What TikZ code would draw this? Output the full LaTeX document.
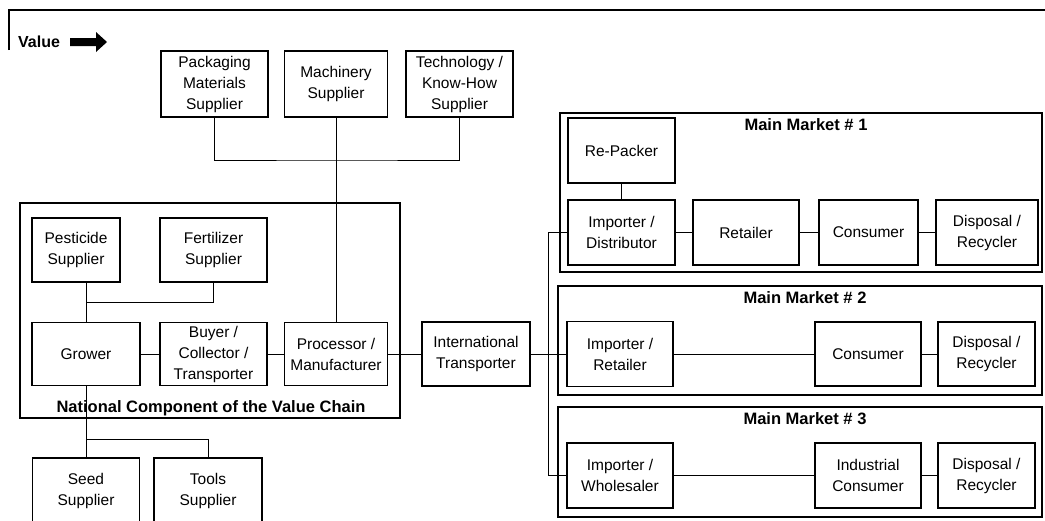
\documentclass[tikz,border=0pt]{standalone}
\usepackage{fontspec}
\setmainfont{Liberation Sans}
\begin{document}
\begin{tikzpicture}[x=1pt,y=-1pt,
  bx/.style={draw, line width=1.1pt, inner sep=0pt, align=center,
    font=\fontsize{15.5}{21}\selectfont},
  frame/.style={draw, line width=1.1pt},
  conn/.style={line width=1pt},
  ttl/.style={inner sep=0pt, font=\fontsize{16.5}{19}\selectfont\bfseries}]
\useasboundingbox (0,0) rectangle (1045,520);
\clip (0,0) rectangle (1045,520);
% header
\draw[line width=2pt] (9,50) -- (9,10) -- (1046,10);
\node[anchor=west, inner sep=0pt, font=\fontsize{16}{18}\selectfont\bfseries] (val) at (18,42) {Value};
\fill (70,38) -- (96,38) -- (96,32) -- (107,42) -- (96,52) -- (96,46) -- (70,46) -- cycle;
% frames
\draw[frame] (560,113) rectangle (1042,272);
\draw[frame] (558,286) rectangle (1042,395);
\draw[frame] (558,407) rectangle (1042,517);
\draw[frame] (20,203) rectangle (400,418);
\node[ttl] (natl) at (211,408) {National Component of the Value Chain};
\node[ttl] (mm1) at (806,125) {Main Market \# 1};
\node[ttl] (mm2) at (805,298) {Main Market \# 2};
\node[ttl] (mm3) at (805,419) {Main Market \# 3};
% top suppliers
\node[bx, minimum width=107pt, minimum height=66pt] (pack) at (214.5,84) {Packaging\\Materials\\Supplier};
\node[bx, minimum width=103pt, minimum height=66pt] (mach) at (336,84) {Machinery\\Supplier};
\node[bx, minimum width=107pt, minimum height=66pt] (tech) at (459.5,84) {Technology /\\Know-How\\Supplier};
% national
\node[bx, minimum width=88pt, minimum height=64pt] (pest) at (76,250) {Pesticide\\Supplier};
\node[bx, minimum width=107pt, minimum height=64pt] (fert) at (213.5,250) {Fertilizer\\Supplier};
\node[bx, minimum width=108pt, minimum height=63pt] (grow) at (86,354) {Grower};
\node[bx, minimum width=107pt, minimum height=63pt] (buy) at (213.5,354) {Buyer /\\Collector /\\Transporter};
\node[bx, minimum width=103pt, minimum height=63pt] (proc) at (336,354) {Processor /\\Manufacturer};
\node[bx, minimum width=107pt, minimum height=66pt] (seed) at (86,491) {Seed\\Supplier};
\node[bx, minimum width=108pt, minimum height=66pt] (tools) at (208,491) {Tools\\Supplier};
\node[bx, minimum width=108pt, minimum height=64pt] (trans) at (476,354) {International\\Transporter};
% market 1
\node[bx, minimum width=107pt, minimum height=65pt] (repack) at (621.5,150.5) {Re-Packer};
\node[bx, minimum width=107pt, minimum height=65pt] (impdist) at (621.5,232.5) {Importer /\\Distributor};
\node[bx, minimum width=106pt, minimum height=65pt] (retail) at (746,232.5) {Retailer};
\node[bx, minimum width=99pt, minimum height=65pt] (cons1) at (868.5,232.5) {Consumer};
\node[bx, minimum width=102pt, minimum height=65pt] (disp1) at (987,232.5) {Disposal /\\Recycler};
% market 2
\node[bx, minimum width=106pt, minimum height=65pt] (imprt) at (620,354) {Importer /\\Retailer};
\node[bx, minimum width=106pt, minimum height=64pt] (cons2) at (868,354) {Consumer};
\node[bx, minimum width=97pt, minimum height=64pt] (disp2) at (986.5,354) {Disposal /\\Recycler};
% market 3
\node[bx, minimum width=106pt, minimum height=65pt] (impwh) at (620,475.5) {Importer /\\Wholesaler};
\node[bx, minimum width=106pt, minimum height=65pt] (indc) at (868,475.5) {Industrial\\Consumer};
\node[bx, minimum width=97pt, minimum height=65pt] (disp3) at (986.5,475.5) {Disposal /\\Recycler};
% connectors
\coordinate (sbus) at (337,160);
\draw[conn] (pack.south) |- (sbus) -| (tech.south);
\draw[conn] (mach.south) -- (proc.north);
\coordinate (pf) at (86,302);
\draw[conn] (grow.north) -- (grow.north |- pest.south);
\draw[conn] (pf) -| (fert.south);
\draw[conn] (grow.east) -- (buy.west);
\draw[conn] (buy.east) -- (proc.west);
\draw[conn] (proc.east) -- (trans.west);
\draw[conn] (trans.east) -- (imprt.west);
\draw[conn] (grow.south) -- (seed.north);
\coordinate (gt) at (86,439);
\draw[conn] (gt) -| (tools.north);
\coordinate (vb1) at (548,232.5);
\coordinate (vb2) at (548,475.5);
\draw[conn] (impdist.west) -- (vb1) -- (vb2) -- (impwh.west);
\draw[conn] (repack.south) -- (impdist.north);
\draw[conn] (impdist.east) -- (retail.west);
\draw[conn] (retail.east) -- (cons1.west);
\draw[conn] (cons1.east) -- (disp1.west);
\draw[conn] (imprt.east) -- (cons2.west);
\draw[conn] (cons2.east) -- (disp2.west);
\draw[conn] (impwh.east) -- (indc.west);
\draw[conn] (indc.east) -- (disp3.west);
\end{tikzpicture}
\end{document}
